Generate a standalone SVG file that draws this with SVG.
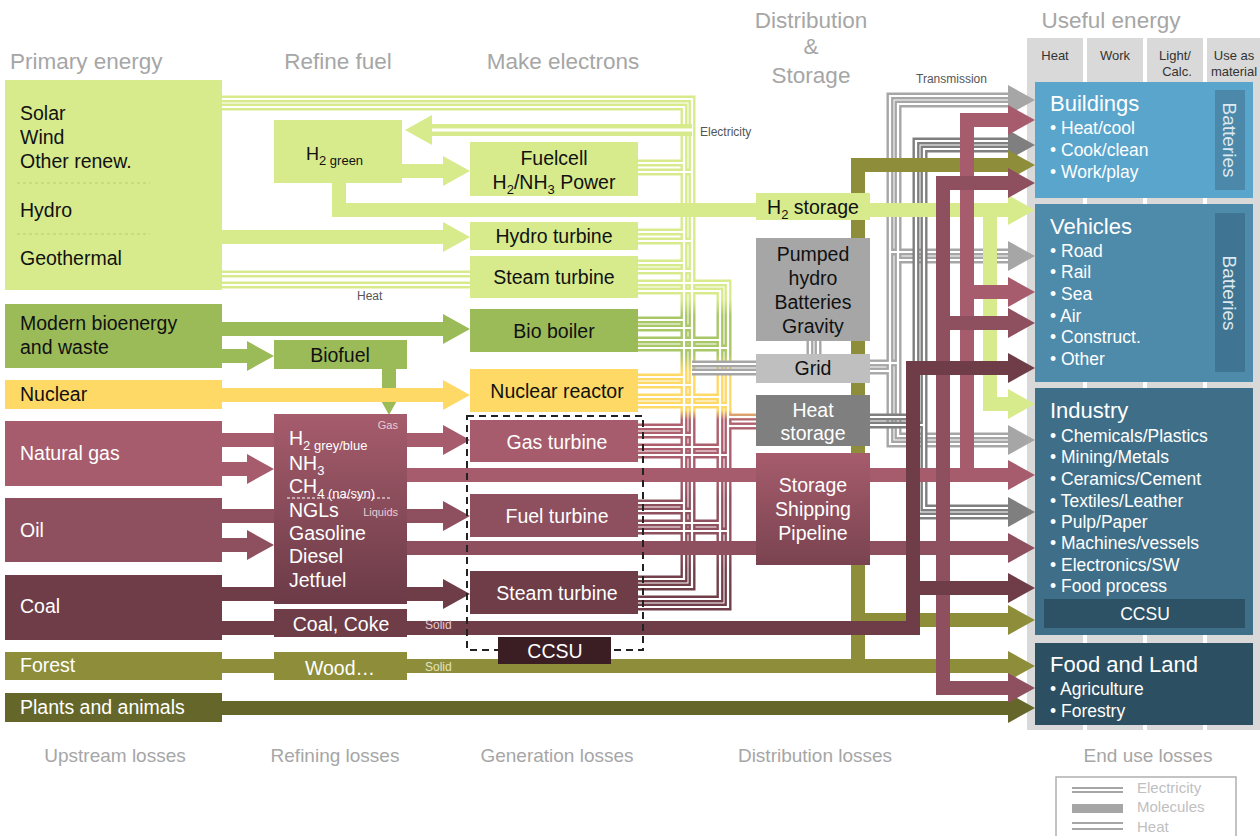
<svg xmlns="http://www.w3.org/2000/svg" width="1260" height="836" viewBox="0 0 1260 836">
<defs>
<style>
text{font-family:"Liberation Sans",Arial,sans-serif}
.hd{font-size:22.5px;fill:#a6a6a6}
.ft{font-size:19px;fill:#a6a6a6;text-anchor:middle}
.t{font-size:19.5px;fill:#111}
.tw{font-size:19.5px;fill:#fff}
.c{text-anchor:middle}
.sm{font-size:12px;fill:#555}
.sec{font-size:22px;fill:#fff}
.bul{font-size:17.5px;fill:#fff}
.col{font-size:13px;fill:#333;text-anchor:middle}
.bat{font-size:19px;fill:#dde9f0;text-anchor:middle}
.e{fill:none;stroke:url(#busG);stroke-width:7}
.w{fill:none;stroke:#fff;stroke-width:2.2}
.g{fill:none;stroke:#a6a6a6;stroke-width:7}
.dg{fill:none;stroke:#7f7f7f;stroke-width:7}
.m{fill:none;stroke-width:14}
.lg{stroke:#d7eb8d}.flg{fill:#d7eb8d}
.gr{stroke:#9bbb59}.fgr{fill:#9bbb59}
.ye{stroke:#ffd966}.fye{fill:#ffd966}
.ng{stroke:#a65c6c}.fng{fill:#a65c6c}
.oi{stroke:#8e4f5e}.foi{fill:#8e4f5e}
.co{stroke:#6e3d48}.fco{fill:#6e3d48}
.ol{stroke:#8e8e3a}.fol{fill:#8e8e3a}
.pl{stroke:#65672a}.fpl{fill:#65672a}
.fga{fill:#a6a6a6}.fdg{fill:#7f7f7f}
.dash{fill:none;stroke:#b9cc70;stroke-width:1;stroke-dasharray:3 3}
.colbg{fill:#d9d9d9}
</style>
<linearGradient id="busG" gradientUnits="userSpaceOnUse" x1="0" y1="97" x2="0" y2="612">
<stop offset="0" stop-color="#d7eb8d"/>
<stop offset="0.394" stop-color="#d7eb8d"/>
<stop offset="0.424" stop-color="#a9c766"/>
<stop offset="0.50" stop-color="#a9c766"/>
<stop offset="0.534" stop-color="#ffd966"/>
<stop offset="0.608" stop-color="#ffd966"/>
<stop offset="0.627" stop-color="#b0606f"/>
<stop offset="0.744" stop-color="#a65c6c"/>
<stop offset="0.782" stop-color="#8e4f5e"/>
<stop offset="0.87" stop-color="#8e4f5e"/>
<stop offset="0.918" stop-color="#73404b"/>
<stop offset="1" stop-color="#6e3d48"/>
</linearGradient>
<linearGradient id="gRef" x1="0" y1="0" x2="0" y2="1">
<stop offset="0" stop-color="#a65c6c"/>
<stop offset="1" stop-color="#6b3b47"/>
</linearGradient>
<linearGradient id="gShip" x1="0" y1="0" x2="0" y2="1">
<stop offset="0" stop-color="#a65c6c"/>
<stop offset="1" stop-color="#7a4350"/>
</linearGradient>
<path id="ah" d="M0,-15 L27,0 L0,15 Z"/>
</defs>

<rect x="0" y="0" width="1260" height="836" fill="#fff"/>

<!-- headers -->
<g id="headers">
<text class="hd" x="10" y="69">Primary energy</text>
<text class="hd c" x="338" y="69">Refine fuel</text>
<text class="hd c" x="563" y="69">Make electrons</text>
<text class="hd c" x="811" y="28">Distribution</text>
<text class="hd c" x="811" y="54">&amp;</text>
<text class="hd c" x="811" y="83">Storage</text>
<text class="hd c" x="1111" y="28">Useful energy</text>
<text class="ft" x="115" y="762">Upstream losses</text>
<text class="ft" x="335" y="762">Refining losses</text>
<text class="ft" x="557" y="762">Generation losses</text>
<text class="ft" x="815" y="762">Distribution losses</text>
<text class="ft" x="1148" y="762">End use losses</text>
</g>

<!-- useful energy columns -->
<g id="columns">
<rect class="colbg" x="1027" y="38" width="56" height="692"/>
<rect class="colbg" x="1087" y="38" width="56" height="692"/>
<rect class="colbg" x="1147" y="38" width="56" height="692"/>
<rect class="colbg" x="1207" y="38" width="53" height="692"/>
<text class="col" x="1055" y="60">Heat</text>
<text class="col" x="1115" y="60">Work</text>
<text class="col" x="1175" y="60">Light/</text>
<text class="col" x="1177" y="76">Calc.</text>
<text class="col" x="1234" y="60">Use as</text>
<text class="col" x="1234" y="76">material</text>
</g>

<g id="connectors">
<!-- electricity / heat bus (gradient coloured double lines) -->
<g class="e"><g id="elecPaths">
<path d="M222,99 H692 V587 H638"/>
<path d="M222,107 H684 V579 H638"/>
<path d="M638,163 H684"/><path d="M638,172 H692"/>
<path d="M638,232 H684"/><path d="M638,241 H692"/>
<path d="M638,263 H684"/><path d="M638,271 H692"/>
<path d="M638,320 H684"/><path d="M638,328 H692"/>
<path d="M638,377 H684"/><path d="M638,385 H692"/>
<path d="M638,427 H684"/><path d="M638,435 H692"/>
<path d="M638,503 H684"/><path d="M638,511 H692"/>
<path d="M638,283 H728 V607 H638"/>
<path d="M638,291 H720 V599 H638"/>
<path d="M638,340 H720"/><path d="M638,348 H728"/>
<path d="M638,397 H720"/><path d="M638,405 H728"/>
<path d="M638,447 H720"/><path d="M638,455 H728"/>
<path d="M638,523 H720"/><path d="M638,531 H728"/>
<path d="M222,274 H470"/><path d="M222,285 H470"/>
<path d="M728,417 H756"/><path d="M728,426 H756"/>
</g></g>
<use href="#elecPaths" class="w"/>

<!-- transmission (grey electricity) -->
<g class="g"><g id="grayPaths">
<path d="M1008,444 H890 V96 H1008"/>
<path d="M1008,436 H898 V104 H1008"/>
<path d="M890,252 H1008"/>
<path d="M898,260 H1008"/>
<path d="M870,363 H898"/>
<path d="M870,371 H890"/>
<path d="M692,364 H756"/>
<path d="M692,372 H756"/>
<path d="M810,341 V354"/>
<path d="M818,341 V354"/>
</g></g>
<use href="#grayPaths" class="w"/>
<g class="dg"><g id="dgPaths">
<path d="M1008,141 H916 V516 H1008"/>
<path d="M1008,149 H924 V508 H1008"/>
<path d="M870,417 H916"/>
<path d="M870,425 H924"/>
</g></g>
<use href="#dgPaths" class="w"/>
<use href="#ah" class="fga" x="1008" y="100"/>
<use href="#ah" class="fga" x="1008" y="256"/>
<use href="#ah" class="fga" x="1008" y="440"/>
<use href="#ah" class="fdg" x="1008" y="145"/>
<use href="#ah" class="fdg" x="1008" y="512"/>

<!-- electricity to electrolysis -->
<path d="M692,130 H432" fill="none" stroke="#d7eb8d" stroke-width="12"/>
<path d="M692,130 H432" fill="none" stroke="#fff" stroke-width="3"/>
<use href="#ah" class="flg" transform="translate(432,130) rotate(180)"/>

<!-- molecules -->
<g class="m lg">
<path d="M402,171 H443"/>
<path d="M339,183 V210 H1008"/>
<path d="M990,210 V404 H1008"/>
<path d="M222,237 H443"/>
</g>
<g class="flg">
<use href="#ah" x="443" y="171"/>
<use href="#ah" x="1008" y="210"/>
<use href="#ah" x="1008" y="404"/>
<use href="#ah" x="443" y="237"/>
</g>
<g class="m gr">
<path d="M222,329 H443"/>
<path d="M222,356 H247"/>
<path d="M389,369 V388"/>
</g>
<g class="fgr">
<use href="#ah" x="443" y="329"/>
<use href="#ah" x="247" y="356"/>
<use href="#ah" transform="translate(389,388) rotate(90)"/>
</g>
<path class="m ye" d="M222,395 H443"/>
<use href="#ah" class="fye" x="443" y="395"/>
<g class="m ol">
<path d="M222,666 H1008"/>
<path d="M858,666 V165 H1008"/>
<path d="M858,620 H1008"/>
</g>
<g class="fol">
<use href="#ah" x="1008" y="666"/>
<use href="#ah" x="1008" y="165"/>
<use href="#ah" x="1008" y="620"/>
</g>
<path class="m pl" d="M222,708 H1008"/>
<use href="#ah" class="fpl" x="1008" y="708"/>
<g class="m ng">
<path d="M222,440 H443"/>
<path d="M222,469 H247"/>
<path d="M407,475 H1008"/>
<path d="M1008,120 H967 V475"/>
<path d="M967,292 H1008"/>
</g>
<g class="fng">
<use href="#ah" x="443" y="440"/>
<use href="#ah" x="247" y="469"/>
<use href="#ah" x="1008" y="475"/>
<use href="#ah" x="1008" y="120"/>
<use href="#ah" x="1008" y="292"/>
</g>
<g class="m oi">
<path d="M222,516 H443"/>
<path d="M222,545 H247"/>
<path d="M407,548 H1008"/>
<path d="M1008,183 H943 V688 H1008"/>
<path d="M943,323 H1008"/>
</g>
<g class="foi">
<use href="#ah" x="443" y="516"/>
<use href="#ah" x="247" y="545"/>
<use href="#ah" x="1008" y="548"/>
<use href="#ah" x="1008" y="183"/>
<use href="#ah" x="1008" y="323"/>
<use href="#ah" x="1008" y="688"/>
</g>
<g class="m co">
<path d="M222,594 H443"/>
<path d="M222,628 H913 V368 H1008"/>
<path d="M913,588 H1008"/>
</g>
<g class="fco">
<use href="#ah" x="443" y="594"/>
<use href="#ah" x="1008" y="368"/>
<use href="#ah" x="1008" y="588"/>
</g>
<text class="sm" x="700" y="136">Electricity</text>
<text class="sm" x="916" y="83">Transmission</text>
<text class="sm" x="357" y="300">Heat</text>
<text class="sm" x="425" y="629" fill="#e6c9cf" style="fill:#e6c9cf">Solid</text>
<text class="sm" x="425" y="671" style="fill:#e4e4c0">Solid</text>
</g>

<!-- primary energy -->
<g id="n-renewables">
<rect x="5" y="80" width="217" height="210" fill="#d7eb8d"/>
<text class="t" x="20" y="120">Solar</text>
<text class="t" x="20" y="144">Wind</text>
<text class="t" x="20" y="168">Other renew.</text>
<line class="dash" x1="17" y1="183" x2="150" y2="183"/>
<text class="t" x="20" y="217">Hydro</text>
<line class="dash" x1="17" y1="234" x2="150" y2="234"/>
<text class="t" x="20" y="265">Geothermal</text>
</g>
<g id="n-bio"><rect x="5" y="304" width="217" height="64" fill="#9bbb59"/>
<text class="t" x="20" y="330">Modern bioenergy</text><text class="t" x="20" y="354">and waste</text></g>
<g id="n-nuclear"><rect x="5" y="380" width="217" height="29" fill="#ffd966"/>
<text class="t" x="20" y="401">Nuclear</text></g>
<g id="n-gas"><rect x="5" y="421" width="217" height="65" fill="#a65c6c"/>
<text class="tw" x="20" y="460">Natural gas</text></g>
<g id="n-oil"><rect x="5" y="498" width="217" height="64" fill="#8e4f5e"/>
<text class="tw" x="20" y="537">Oil</text></g>
<g id="n-coal"><rect x="5" y="575" width="217" height="65" fill="#6e3d48"/>
<text class="tw" x="20" y="613">Coal</text></g>
<g id="n-forest"><rect x="5" y="652" width="217" height="28" fill="#8e8e3a"/>
<text class="tw" x="20" y="672">Forest</text></g>
<g id="n-plants"><rect x="5" y="693" width="217" height="29" fill="#65672a"/>
<text class="tw" x="20" y="714">Plants and animals</text></g>

<!-- refine -->
<g id="n-h2green"><rect x="274" y="120" width="128" height="63" fill="#d7eb8d"/>
<text class="t" x="306" y="160" style="font-size:18px">H<tspan font-size="13" dy="5">2 green</tspan></text></g>
<g id="n-biofuel"><rect x="274" y="340" width="133" height="29" fill="#9bbb59"/>
<text class="t c" x="340" y="362">Biofuel</text></g>
<g id="n-refinery"><rect x="274" y="414" width="133" height="190" fill="url(#gRef)"/>
<text x="398" y="429" style="font-size:11px;fill:#e8cdd3;text-anchor:end">Gas</text>
<text class="tw" x="289" y="445">H<tspan font-size="13" dy="5">2 grey/blue</tspan></text>
<text class="tw" x="289" y="470">NH<tspan font-size="13" dy="5">3</tspan></text>
<text class="tw" x="289" y="493">CH<tspan font-size="13" dy="5">4 (na/syn)</tspan></text>
<line x1="287" y1="498" x2="390" y2="498" stroke="#fff" stroke-width="1" stroke-dasharray="3 2"/>
<text class="tw" x="289" y="517">NGLs</text>
<text x="398" y="516" style="font-size:11px;fill:#e8cdd3;text-anchor:end">Liquids</text>
<text class="tw" x="289" y="540">Gasoline</text>
<text class="tw" x="289" y="563">Diesel</text>
<text class="tw" x="289" y="587">Jetfuel</text></g>
<g id="n-coke"><rect x="274" y="609" width="133" height="28" fill="#6e3d48"/>
<text class="tw c" x="341" y="631">Coal, Coke</text></g>
<g id="n-wood"><rect x="274" y="652" width="133" height="28" fill="#8e8e3a"/>
<text class="tw c" x="340" y="675">Wood…</text></g>

<!-- make electrons -->
<g id="n-fuelcell"><rect x="470" y="142" width="168" height="54" fill="#d7eb8d"/>
<text class="t c" x="554" y="165">Fuelcell</text>
<text class="t c" x="554" y="189">H<tspan font-size="13" dy="5">2</tspan><tspan dy="-5">/NH</tspan><tspan font-size="13" dy="5">3</tspan><tspan dy="-5"> Power</tspan></text></g>
<g id="n-hydroturb"><rect x="470" y="222" width="168" height="28" fill="#d7eb8d"/>
<text class="t c" x="554" y="243">Hydro turbine</text></g>
<g id="n-steamgreen"><rect x="470" y="256" width="168" height="42" fill="#d7eb8d"/>
<text class="t c" x="554" y="284">Steam turbine</text></g>
<g id="n-bioboiler"><rect x="470" y="309" width="168" height="43" fill="#9bbb59"/>
<text class="t c" x="554" y="338">Bio boiler</text></g>
<g id="n-reactor"><rect x="470" y="369" width="168" height="43" fill="#ffd966"/>
<text class="t c" x="557" y="398">Nuclear reactor</text></g>
<g id="n-ccs-frame"><rect x="467" y="416" width="176" height="234" fill="none" stroke="#222" stroke-width="2" stroke-dasharray="7 5"/></g>
<g id="n-gasturb"><rect x="470" y="420" width="168" height="42" fill="#a65c6c"/>
<text class="tw c" x="557" y="449">Gas turbine</text></g>
<g id="n-fuelturb"><rect x="470" y="494" width="168" height="43" fill="#8e4f5e"/>
<text class="tw c" x="557" y="523">Fuel turbine</text></g>
<g id="n-steamcoal"><rect x="470" y="571" width="168" height="43" fill="#6e3d48"/>
<text class="tw c" x="557" y="600">Steam turbine</text></g>
<g id="n-ccsu"><rect x="498" y="637" width="113" height="27" fill="#3a1e24"/>
<text class="tw c" x="555" y="658">CCSU</text></g>

<!-- distribution & storage -->
<g id="n-h2storage"><rect x="756" y="193" width="114" height="27" fill="#d7eb8d"/>
<text class="t c" x="813" y="214">H<tspan font-size="13" dy="5">2</tspan><tspan dy="-5"> storage</tspan></text></g>
<g id="n-pumped"><rect x="756" y="238" width="114" height="103" fill="#a6a6a6"/>
<text class="t c" x="813" y="261">Pumped</text>
<text class="t c" x="813" y="285">hydro</text>
<text class="t c" x="813" y="309">Batteries</text>
<text class="t c" x="813" y="333">Gravity</text></g>
<g id="n-grid"><rect x="756" y="354" width="114" height="29" fill="#bfbfbf"/>
<text class="t c" x="813" y="375">Grid</text></g>
<g id="n-heatstorage"><rect x="756" y="395" width="114" height="51" fill="#7f7f7f"/>
<text class="tw c" x="813" y="417">Heat</text>
<text class="tw c" x="813" y="440">storage</text></g>
<g id="n-shipping"><rect x="756" y="453" width="114" height="112" fill="url(#gShip)"/>
<text class="tw c" x="813" y="492">Storage</text>
<text class="tw c" x="813" y="516">Shipping</text>
<text class="tw c" x="813" y="540">Pipeline</text></g>

<!-- useful energy sectors -->
<g id="n-buildings"><rect x="1035" y="82" width="218" height="116" fill="#5aa5cc"/>
<rect x="1215" y="90" width="30" height="100" fill="#4b88aa"/>
<text class="bat" transform="translate(1230,140) rotate(90)" dy="7">Batteries</text>
<text class="sec" x="1050" y="111">Buildings</text>
<text class="bul" x="1050" y="134">• Heat/cool</text>
<text class="bul" x="1050" y="156">• Cook/clean</text>
<text class="bul" x="1050" y="178">• Work/play</text></g>
<g id="n-vehicles"><rect x="1035" y="204" width="218" height="178" fill="#4e8aaa"/>
<rect x="1215" y="213" width="30" height="159" fill="#3f7592"/>
<text class="bat" transform="translate(1230,293) rotate(90)" dy="7">Batteries</text>
<text class="sec" x="1050" y="234">Vehicles</text>
<text class="bul" x="1050" y="257">• Road</text>
<text class="bul" x="1050" y="278">• Rail</text>
<text class="bul" x="1050" y="300">• Sea</text>
<text class="bul" x="1050" y="322">• Air</text>
<text class="bul" x="1050" y="343">• Construct.</text>
<text class="bul" x="1050" y="365">• Other</text></g>
<g id="n-industry"><rect x="1035" y="388" width="218" height="247" fill="#3f6f88"/>
<text class="sec" x="1050" y="418">Industry</text>
<text class="bul" x="1050" y="442">• Chemicals/Plastics</text>
<text class="bul" x="1050" y="463">• Mining/Metals</text>
<text class="bul" x="1050" y="485">• Ceramics/Cement</text>
<text class="bul" x="1050" y="507">• Textiles/Leather</text>
<text class="bul" x="1050" y="528">• Pulp/Paper</text>
<text class="bul" x="1050" y="549">• Machines/vessels</text>
<text class="bul" x="1050" y="571">• Electronics/SW</text>
<text class="bul" x="1050" y="592">• Food process</text>
<rect x="1044" y="599" width="201" height="29" fill="#2d5266"/>
<text class="bul c" x="1145" y="620">CCSU</text></g>
<g id="n-food"><rect x="1035" y="643" width="218" height="82" fill="#2c4f62"/>
<text class="sec" x="1050" y="672">Food and Land</text>
<text class="bul" x="1050" y="695">• Agriculture</text>
<text class="bul" x="1050" y="717">• Forestry</text></g>

<!-- legend -->
<g id="legend">
<rect x="1056" y="777" width="180" height="62" fill="#fff" stroke="#b0b0b0" stroke-width="1.5"/>
<line x1="1072" y1="788" x2="1123" y2="788" stroke="#a6a6a6" stroke-width="2"/>
<line x1="1072" y1="792" x2="1123" y2="792" stroke="#a6a6a6" stroke-width="2"/>
<rect x="1072" y="804" width="51" height="9" fill="#a6a6a6"/>
<line x1="1072" y1="823" x2="1123" y2="823" stroke="#a6a6a6" stroke-width="2"/>
<line x1="1072" y1="829" x2="1123" y2="829" stroke="#a6a6a6" stroke-width="2"/>
<text x="1137" y="793" style="font-size:15px;fill:#c0c0c0">Electricity</text>
<text x="1137" y="812" style="font-size:15px;fill:#c0c0c0">Molecules</text>
<text x="1137" y="832" style="font-size:15px;fill:#c0c0c0">Heat</text>
</g>
</svg>
